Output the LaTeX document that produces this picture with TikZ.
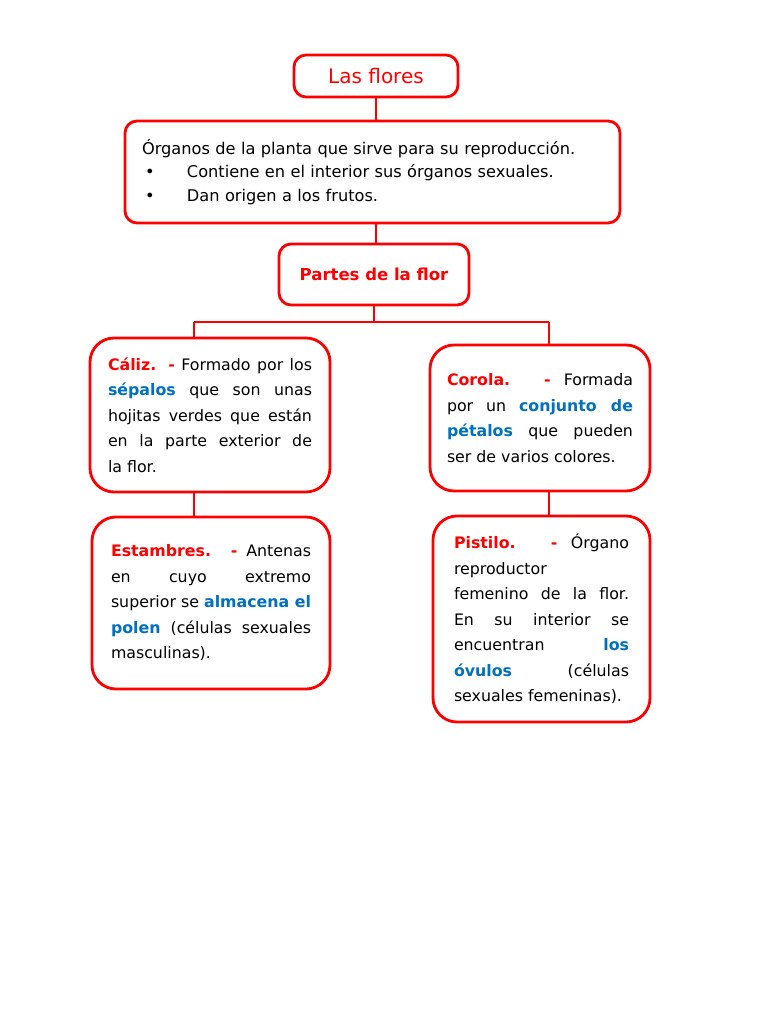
\documentclass[tikz,border=0pt]{standalone}
\usepackage{fontspec}
\setmainfont{DejaVu Sans}
\usetikzlibrary{positioning}
\definecolor{rojo}{RGB}{255,0,0}
\definecolor{azul}{RGB}{0,112,192}
\newcommand{\tr}[1]{\textcolor{rojo}{\bfseries #1}}
\newcommand{\ta}[1]{\textcolor{azul}{\bfseries #1}}
\newcommand{\punto}{\hspace*{3pt}\makebox[42pt][l]{•}}

\begin{document}
\begin{tikzpicture}[x=1pt, y=-1pt,
    caja/.style={draw=rojo, line width=2.8pt, rounded corners=12pt, fill=white, inner ysep=0pt},
    tarjeta/.style={caja, rounded corners=24pt, align=justify, font=\fontsize{15.8}{25.5}\selectfont},
    conector/.style={draw=rojo, line width=2.8pt}
]
\useasboundingbox (0,0) rectangle (768,1024);

% --- Titel und Definition ---
\node[caja, minimum width=164pt, minimum height=42pt, text=rojo, font=\fontsize{20}{22}\selectfont] (flores) at (376,76) {Las flores};
\node[caja, text width=461pt, inner xsep=17pt, minimum height=102pt, align=left, font=\fontsize{16.2}{23.5}\selectfont] (def) at (372.5,172) {%
  Órganos de la planta que sirve para su reproducción.\\
  \punto Contiene en el interior sus órganos sexuales.\\
  \punto Dan origen a los frutos.};
\node[caja, minimum width=190pt, minimum height=61pt, font=\fontsize{16.5}{18}\selectfont\bfseries, text=rojo] (partes) at (374,274.5) {Partes de la flor};

% --- Teile der Blüte ---
\node[tarjeta, text width=204pt, inner xsep=18pt, minimum height=154pt] (caliz) at (210,415) {%
  \tr{Cáliz. -} Formado por los\linebreak
  \ta{sépalos} que son unas\linebreak
  hojitas verdes que están\linebreak
  en la parte exterior de\linebreak
  la flor.};
\node[tarjeta, text width=186pt, inner xsep=17pt, minimum height=146pt] (corola) at (540,418) {%
  \tr{Corola. -} Formada\linebreak
  por un \ta{conjunto de}\linebreak
  \ta{pétalos} que pueden\linebreak
  ser de varios colores.};
\node[tarjeta, text width=200pt, inner xsep=19pt, minimum height=172pt] (estambres) at (211,603) {%
  \tr{Estambres. -} Antenas\linebreak
  en cuyo extremo\linebreak
  superior se \ta{almacena el}\linebreak
  \ta{polen} (células sexuales\linebreak
  masculinas).};
\node[tarjeta, text width=175pt, inner xsep=21pt, minimum height=206pt] (pistilo) at (541.5,619) {%
  \tr{Pistilo. -} Órgano\linebreak
  reproductor\linebreak
  femenino de la flor.\linebreak
  En su interior se\linebreak
  encuentran \ta{los}\linebreak
  \ta{óvulos} (células\linebreak
  sexuales femeninas).};

% --- Verbindungen ---
\coordinate (izq) at (194,322);
\coordinate (der) at (549,322);
\draw[conector] (flores.south) -- (flores.south |- def.north);
\draw[conector] (flores.south |- def.south) -- (flores.south |- partes.north);
\draw[conector] (partes.south) -- (partes.south |- izq);
\draw[conector] (izq) -- (der);
\draw[conector] (izq) -- (izq |- caliz.north);
\draw[conector] (der) -- (der |- corola.north);
\draw[conector] (izq |- caliz.south) -- (izq |- estambres.north);
\draw[conector] (der |- corola.south) -- (der |- pistilo.north);

\end{tikzpicture}
\end{document}
